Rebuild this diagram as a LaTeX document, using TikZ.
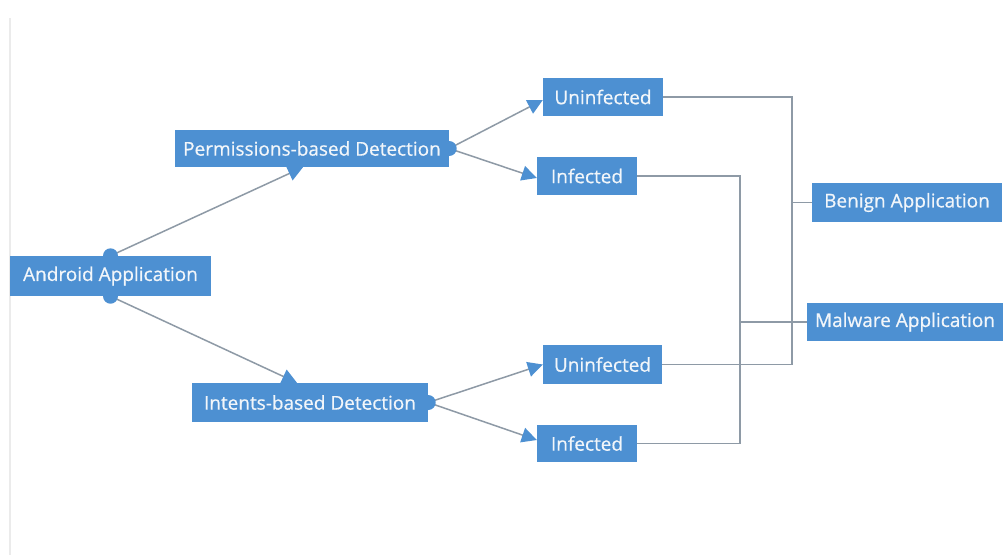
\documentclass[tikz,border=0pt]{standalone}
\usepackage{fontspec}
\setmainfont{Open Sans}
\newfontfamily\boxfont[FakeBold=0.6]{Open Sans}
\usetikzlibrary{arrows.meta,calc}
\definecolor{boxblue}{HTML}{4D90D2}
\definecolor{linegray}{HTML}{8E9AA6}
\definecolor{txtwhite}{HTML}{F2F6FA}
\pgfdeclarelayer{bg}
\pgfsetlayers{bg,main}
\tikzset{
  box/.style={fill=boxblue, text=txtwhite, inner sep=0pt, font=\boxfont\fontsize{19}{21}\selectfont},
  conn/.style={draw=linegray, line width=1.5pt},
  arr/.style={conn, -{Triangle[length=15pt,width=15pt,fill=boxblue,color=boxblue]}},
  dot/.style={circle, fill=boxblue, inner sep=0pt, minimum size=15pt}
}
\begin{document}
\begin{tikzpicture}[x=1pt,y=-1pt]
\useasboundingbox (0,0) rectangle (1003,558);
\begin{pgfonlayer}{bg}
\fill[white] (0,0) rectangle (1003,558);
\end{pgfonlayer}
\coordinate (lt) at (10,18);
\coordinate (lb) at (10,555);
\draw[black!8, line width=1.2pt] (lt) -- (lb);

\node[box, minimum width=201pt, minimum height=40pt] (android) at (110.5,276) {Android Application};
\node[box, minimum width=274pt, minimum height=37pt] (perm) at (312,148.5) {Permissions-based Detection};
\node[box, minimum width=236pt, minimum height=39pt] (intent) at (310,402.5) {Intents-based Detection};
\node[box, minimum width=120pt, minimum height=38pt] (u1) at (603,97) {Uninfected};
\node[box, minimum width=100pt, minimum height=38pt] (i1) at (587,176) {Infected};
\node[box, minimum width=119pt, minimum height=39pt] (u2) at (602.5,364.5) {Uninfected};
\node[box, minimum width=100pt, minimum height=37pt] (i2) at (587,443.5) {Infected};
\node[box, minimum width=190pt, minimum height=39pt] (benign) at (907,202.5) {Benign Application};
\node[box, minimum width=196pt, minimum height=38pt] (malware) at (905,322) {Malware Application};

\node[dot] (d1) at (android.north) {};
\node[dot] (d2) at (android.south) {};
\node[dot] (d3) at (perm.east) {};
\node[dot] (d4) at (intent.east) {};

\coordinate (jb) at (792,202.5);
\coordinate (jm) at (740,322);

\begin{pgfonlayer}{bg}
\draw[arr] (d1.center) -- ([xshift=-9pt]perm.south);
\draw[arr] (d2.center) -- ([xshift=-13pt]intent.north);
\draw[arr] (d3.center) -- ([yshift=-3pt]u1.west);
\draw[arr] (d3.center) -- ([yshift=-2pt]i1.west);
\draw[arr] (d4.center) -- (u2.west);
\draw[arr] (d4.center) -- ([yshift=3.5pt]i2.west);
\draw[conn] (u1.east) -| (jb) |- (u2.east);
\draw[conn] (jb) -- (benign.west);
\draw[conn] (i1.east) -| (jm) |- (i2.east);
\draw[conn] (jm) -- (malware.west);
\end{pgfonlayer}
\end{tikzpicture}
\end{document}
